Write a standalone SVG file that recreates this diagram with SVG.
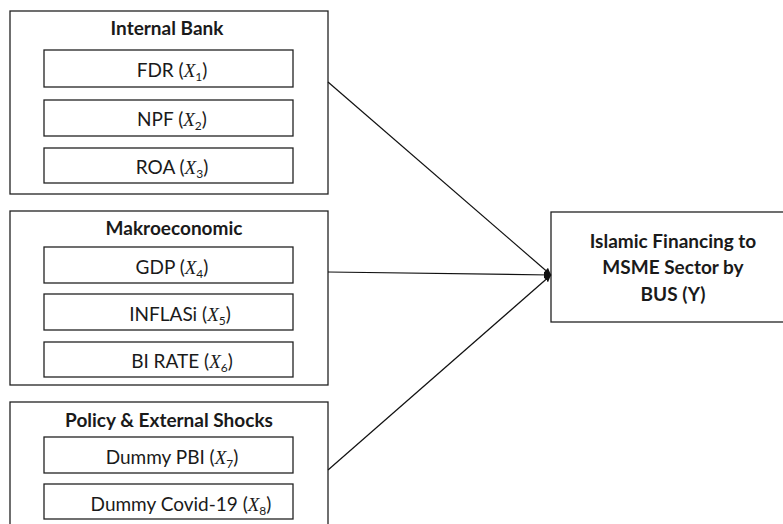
<svg xmlns="http://www.w3.org/2000/svg" width="783" height="524" viewBox="0 0 783 524">
<style>
.box{fill:#fff;stroke:#222;stroke-width:1.3}
.t{font-family:Lato,"Open Sans","Liberation Sans",sans-serif;font-size:19px;fill:#1a1a1a;text-anchor:middle}
.h{font-weight:bold;font-size:19px}
.x{font-family:"Liberation Serif","DejaVu Serif",serif;font-style:italic}
.s{font-size:12px;font-style:normal}
.c{stroke:#111;stroke-width:1.2;fill:none}
</style>
<defs>
<marker id="ah" markerWidth="8" markerHeight="8" refX="7" refY="4" orient="auto" markerUnits="userSpaceOnUse">
<path d="M0,0.5 L7,4 L0,7.5 Z" fill="#111"/>
</marker>
</defs>
<rect width="783" height="524" fill="#fff"/>
<g id="internal-bank">
<rect class="box" x="10" y="11" width="318" height="183"/>
<text class="t h" x="167" y="35">Internal Bank</text>
<rect class="box" x="44" y="50" width="249" height="37"/>
<text class="t" x="172" y="77">FDR (<tspan class="x">X</tspan><tspan class="s" dy="4">1</tspan><tspan dy="-4">)</tspan></text>
<rect class="box" x="44" y="100" width="249" height="36"/>
<text class="t" x="172" y="126">NPF (<tspan class="x">X</tspan><tspan class="s" dy="4">2</tspan><tspan dy="-4">)</tspan></text>
<rect class="box" x="44" y="148" width="249" height="35"/>
<text class="t" x="172" y="174">ROA (<tspan class="x">X</tspan><tspan class="s" dy="4">3</tspan><tspan dy="-4">)</tspan></text>
</g>
<g id="makroeconomic">
<rect class="box" x="10" y="211" width="318" height="174"/>
<text class="t h" x="174" y="235">Makroeconomic</text>
<rect class="box" x="44" y="247" width="249" height="36"/>
<text class="t" x="172" y="274">GDP (<tspan class="x">X</tspan><tspan class="s" dy="4">4</tspan><tspan dy="-4">)</tspan></text>
<rect class="box" x="44" y="294" width="249" height="36"/>
<text class="t" x="180" y="321">INFLASi (<tspan class="x">X</tspan><tspan class="s" dy="4">5</tspan><tspan dy="-4">)</tspan></text>
<rect class="box" x="44" y="342" width="249" height="35"/>
<text class="t" x="182" y="368">BI RATE (<tspan class="x">X</tspan><tspan class="s" dy="4">6</tspan><tspan dy="-4">)</tspan></text>
</g>
<g id="policy-shocks">
<rect class="box" x="10" y="402" width="318" height="130"/>
<text class="t h" x="169" y="427">Policy &amp; External Shocks</text>
<rect class="box" x="44" y="437" width="249" height="36"/>
<text class="t" x="172" y="464">Dummy PBI (<tspan class="x">X</tspan><tspan class="s" dy="4">7</tspan><tspan dy="-4">)</tspan></text>
<rect class="box" x="44" y="484" width="249" height="35"/>
<text class="t" x="181" y="511">Dummy Covid-19 (<tspan class="x">X</tspan><tspan class="s" dy="4">8</tspan><tspan dy="-4">)</tspan></text>
</g>
<g id="target">
<rect class="box" x="551" y="212" width="235" height="110"/>
<text class="t h" x="673" y="248">Islamic Financing to</text>
<text class="t h" x="673" y="274">MSME Sector by</text>
<text class="t h" x="673" y="301">BUS (Y)</text>
</g>
<g id="connectors">
<line class="c" x1="328" y1="82" x2="551" y2="275" marker-end="url(#ah)"/>
<line class="c" x1="328" y1="272" x2="551" y2="275" marker-end="url(#ah)"/>
<line class="c" x1="328" y1="470" x2="551" y2="275" marker-end="url(#ah)"/>
</g>
</svg>
